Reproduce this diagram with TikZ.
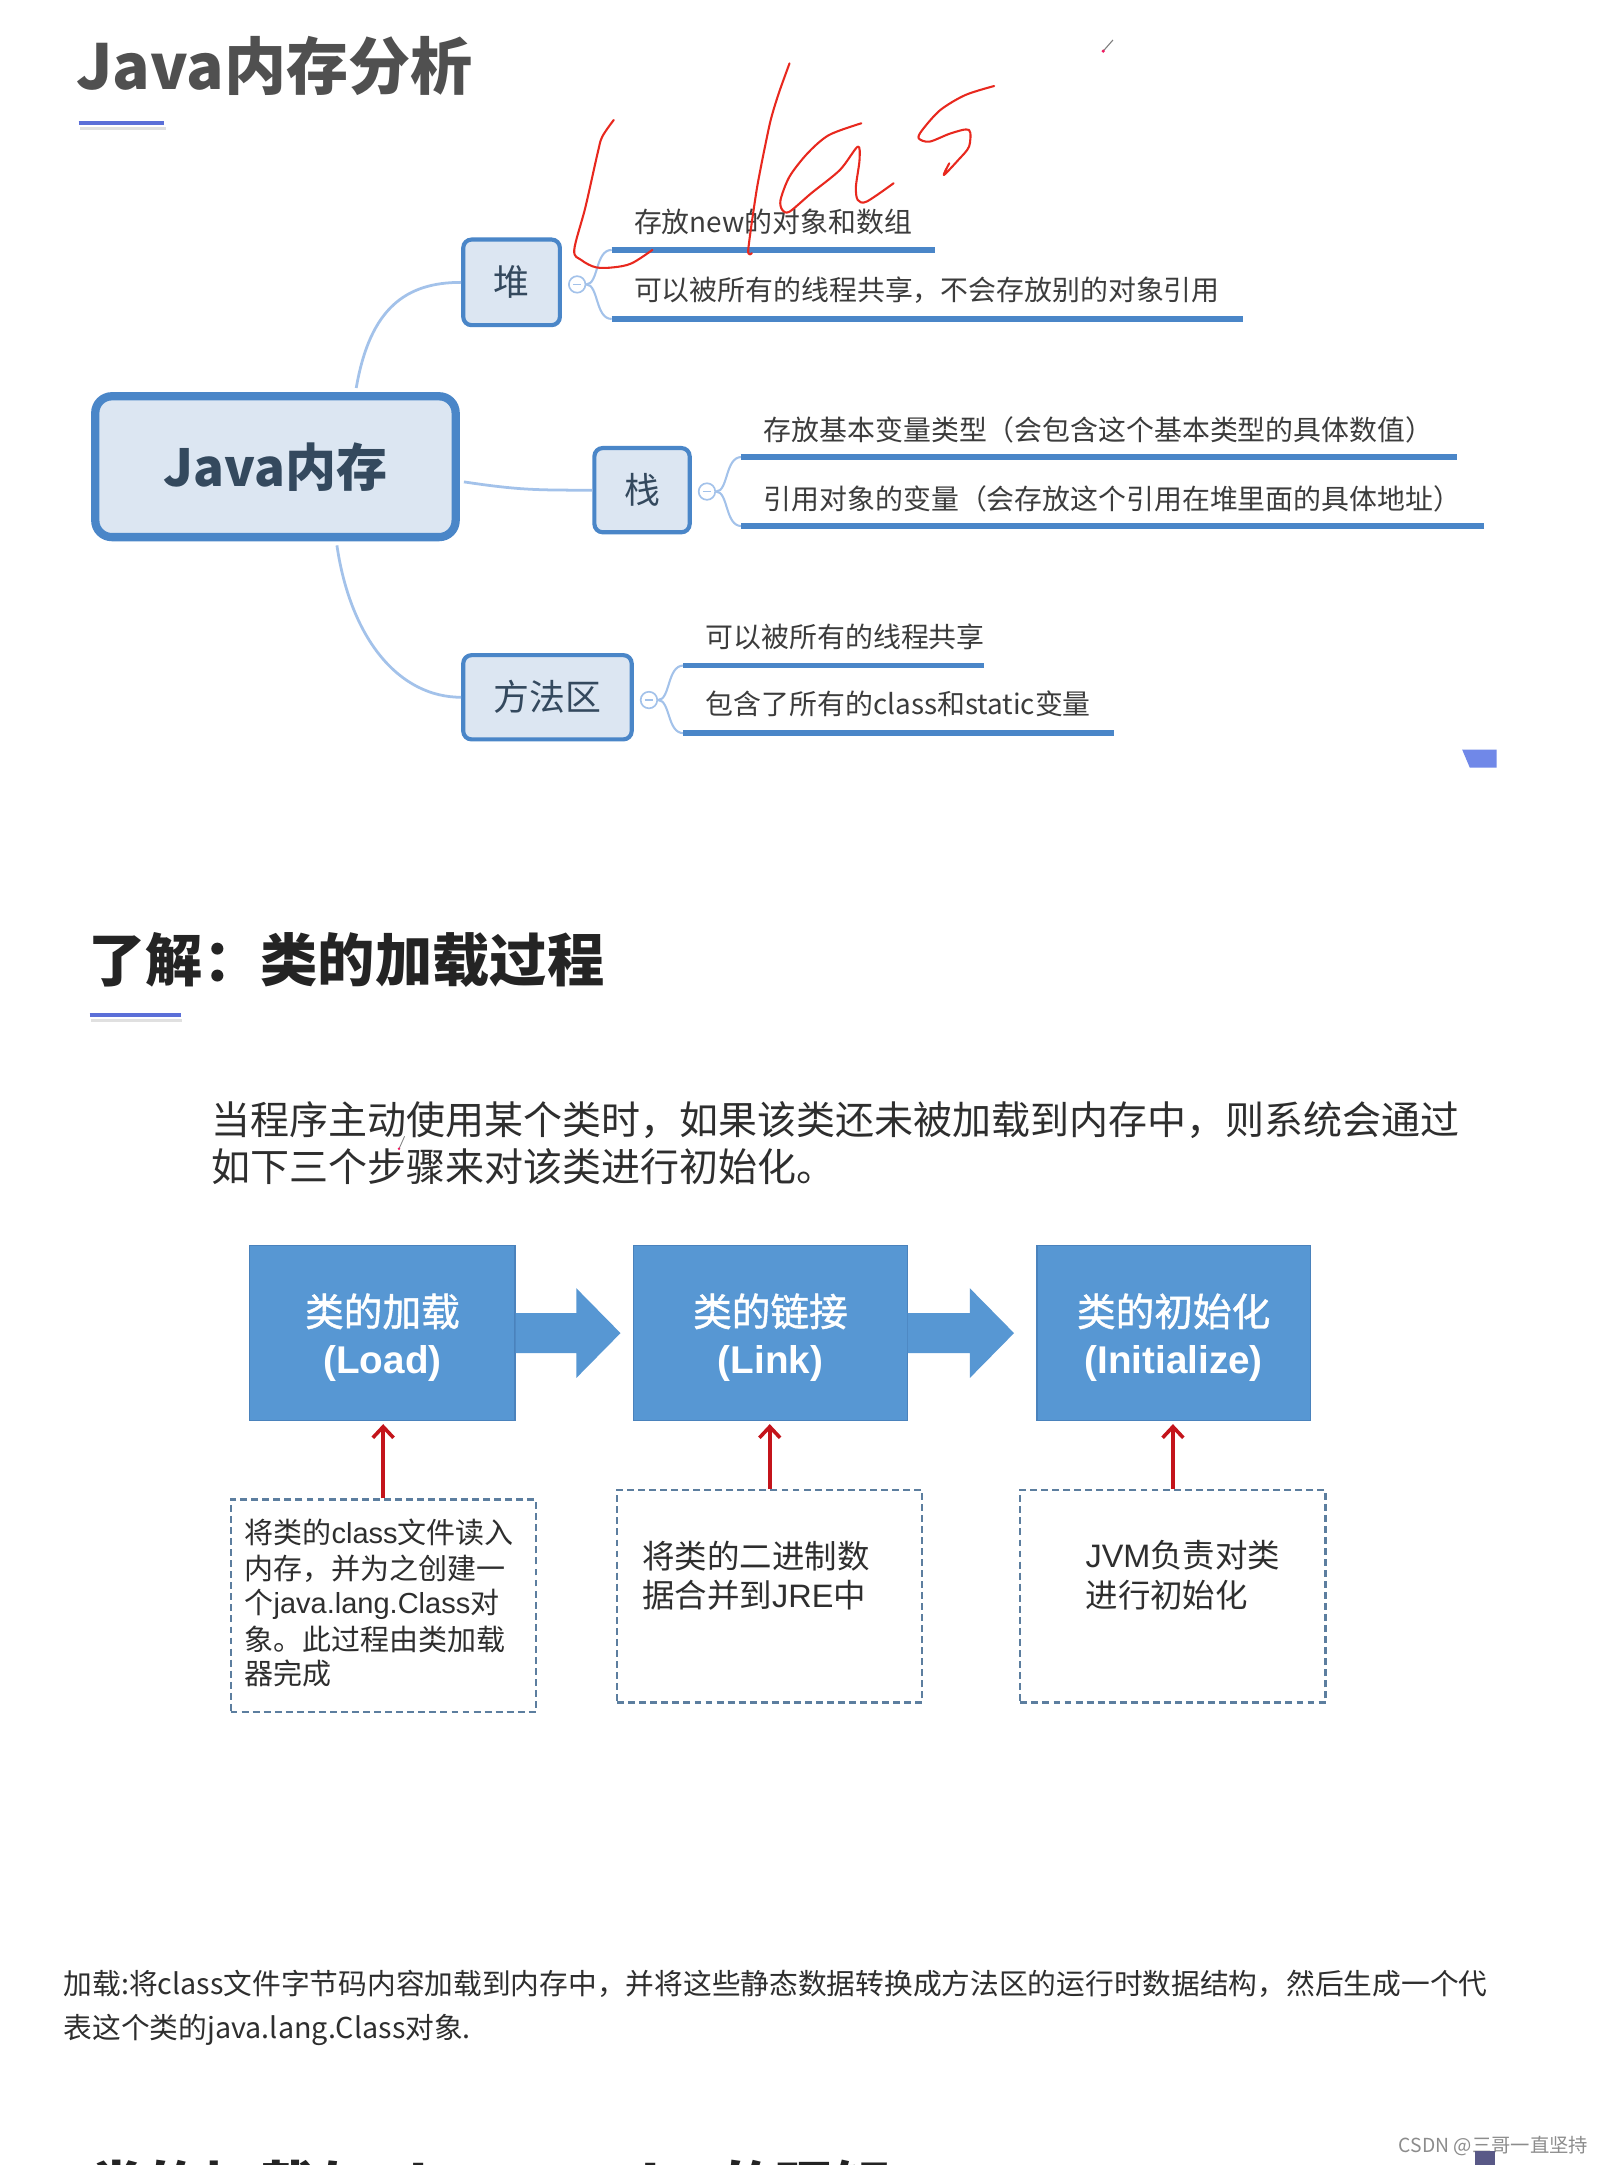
\documentclass[tikz,border=0pt]{standalone}
\usepackage{fontspec}
\setmainfont{Noto Sans CJK SC}
\newfontfamily\lat{Liberation Sans}
\newfontfamily\cjkmed{Noto Sans CJK SC}[FakeBold=1.2]
\usetikzlibrary{arrows.meta,calc}
\definecolor{mmblue}{HTML}{4A86C8}
\definecolor{mmfill}{HTML}{DCE6F2}
\definecolor{connblue}{HTML}{A3C2EA}
\definecolor{roottext}{HTML}{34495E}
\definecolor{mmtext}{HTML}{3C3C3C}
\definecolor{titlegray}{HTML}{505050}
\definecolor{titledark}{HTML}{242424}
\definecolor{lineblue}{HTML}{5B6FD8}
\definecolor{boxblue}{HTML}{5797D3}
\definecolor{boxedge}{HTML}{4A82BC}
\definecolor{arrowred}{HTML}{C4141B}
\definecolor{dashblue}{HTML}{5C7E9F}
\definecolor{handred}{HTML}{E8281E}
\definecolor{quadblue}{HTML}{7088E8}
\definecolor{bodygray}{HTML}{2E2E2E}
\newcommand\myfs[2]{\fontsize{#1}{#2}\selectfont}
\begin{document}
\begin{tikzpicture}[x=1pt,y=-1pt,
  txt/.style={inner sep=0pt, anchor=west},
  mm/.style={draw=mmblue, fill=mmfill, line width=3pt, rounded corners=6pt, inner sep=0pt, text=roottext, font={\myfs{26}{28}}},
  conn/.style={draw=connblue, line width=2pt},
  uline/.style={draw=mmblue, line width=4pt},
  coll/.style={circle, draw=connblue, line width=1.2pt, minimum size=12pt, inner sep=0pt, fill=white,
    path picture={\draw[connblue, line width=1pt] ([xshift=-3pt]path picture bounding box.center) -- ([xshift=3pt]path picture bounding box.center);}},
  mtxt/.style={txt, text=mmtext, font={\myfs{20.2}{24}}},
  tline/.style={draw=lineblue, line width=3pt},
  tshadow/.style={draw=black!12, line width=2pt},
  bbox/.style={fill=boxblue, draw=boxedge, line width=0.8pt, inner sep=0pt},
  btxt/.style={text=white, align=center, inner sep=0pt, font={\myfs{28}{34}\cjkmed}},
  barrow/.style={fill=boxblue, draw=none},
  dbox/.style={draw=dashblue, line width=1.5pt, dash pattern=on 5pt off 3pt, inner sep=0pt},
  dtxt/.style={txt, text=bodygray},
  redarr/.style={draw=arrowred, line width=2.6pt, -{Straight Barb[length=8pt,width=15pt]}, shorten >=2pt},
  hand/.style={draw=handred, line width=1.5pt, line cap=round, line join=round}
]
\useasboundingbox (0,0) rectangle (1163,1568);
\clip (0,0) rectangle (1163,1568);
\fill[white] (0,0) rectangle (1163,1568);

% ---------- Section 1 ----------
\node[txt, text=titlegray, font={\myfs{45}{50}\bfseries}] (t1) at (55,48) {Java内存分析};
\draw[tshadow] (58,93) -- (120,93);
\draw[tline] (57,89) -- (119,89);

% mind map nodes
\node[mm, line width=6pt, rounded corners=12pt, minimum width=261pt, minimum height=102pt, font={\myfs{37}{40}\bfseries}] (root) at (199.5,338) {Java内存};
\node[mm, minimum width=70pt, minimum height=62pt] (heap) at (370.5,204.5) {堆};
\node[mm, minimum width=69pt, minimum height=61pt] (stack) at (465,355) {栈};
\node[mm, minimum width=122pt, minimum height=61pt] (meth) at (396.5,505) {方法区};

% connectors root -> children
\draw[conn] ($(root.north)+(58.5,-3)$) .. controls +(10,-58) and +(-40,0) .. (heap.west);
\draw[conn] ($(root.east)+(3,11)$) .. controls +(40,6) and +(-40,0) .. (stack.west);
\draw[conn] ($(root.south)+(44.5,3)$) .. controls +(10,68) and +(-45,0) .. (meth.west);

% collapse markers
\node[coll] (ch) at (418,206) {};
\node[coll] (cs) at (512,356) {};
\node[coll] (cm) at (470,507) {};

% underline coordinates
\coordinate (h1) at (443,181); \coordinate (h1e) at (677,181);
\coordinate (h2) at (443,231); \coordinate (h2e) at (900,231);
\coordinate (s1) at (537,331); \coordinate (s1e) at (1055,331);
\coordinate (s2) at (537,381); \coordinate (s2e) at (1075,381);
\coordinate (m1) at (495,482); \coordinate (m1e) at (713,482);
\coordinate (m2) at (495,531); \coordinate (m2e) at (807,531);

% brackets
\foreach \c/\a/\b in {ch/h1/h2, cs/s1/s2, cm/m1/m2}{
  \draw[conn, line width=1.5pt] (\c.east) .. controls +(9,0) and +(-12,0) .. (\a);
  \draw[conn, line width=1.5pt] (\c.east) .. controls +(9,0) and +(-12,0) .. (\b);
}
% underlines
\draw[uline] (h1) -- (h1e);
\draw[uline] (h2) -- (h2e);
\draw[uline] (s1) -- (s1e);
\draw[uline] (s2) -- (s2e);
\draw[uline] (m1) -- (m1e);
\draw[uline] (m2) -- (m2e);

% leaf texts
\node[mtxt] (th1) at (459,161) {存放new的对象和数组};
\node[mtxt] (th2) at (459,210) {可以被所有的线程共享，不会存放别的对象引用};
\node[mtxt] (ts1) at (553,311) {存放基本变量类型（会包含这个基本类型的具体数值）};
\node[mtxt] (ts2) at (553,361) {引用对象的变量（会存放这个引用在堆里面的具体地址）};
\node[mtxt] (tm1) at (511,461) {可以被所有的线程共享};
\node[mtxt] (tm2) at (511,510) {包含了所有的class和static变量};

% handwriting
\draw[hand] plot[smooth, tension=0.55] coordinates {(444.5,86.9) (436.2,99) (432.8,111) (424,150) (415.9,181) (421,188.3) (431.5,193.6) (444.5,193.6) (457.5,190.7) (472.5,181)};
\draw[hand] plot[smooth, tension=0.4] coordinates {(571.8,45.9) (564,67.6) (557.6,89.3) (548.4,135.2) (541.9,181) (544.5,183.4)};
\draw[hand] plot[smooth, tension=0.5] coordinates {(623.8,89.3) (600.4,97.8) (584.9,111) (571.8,127.9) (565.3,144.8) (566.6,152.1) (571.8,153.3) (587.5,140) (608.3,123.1) (621.2,106.2) (622.5,115.9) (619.9,135.2) (621.2,144.8) (627.7,146) (647.2,132.7)};
\draw[hand] plot[smooth, tension=0.5] coordinates {(720,62.3) (699.2,68.8) (681,79.7) (668,94.1) (665.4,100.2) (673.2,102.6) (688.8,96.5) (701.8,94.1) (701.8,106.2) (694,115.9) (683.6,126.7) (687.5,118.3)};
\draw[gray, line width=0.8pt] (799,37) -- (806,29);
\fill[handred!70!magenta] (799,37) circle (1.3pt);

% small blue quad
\fill[quadblue] (1059,543) -- (1084,543) -- (1084,556) -- (1064.5,556) -- cycle;

% ---------- Section 2 ----------
\node[txt, text=titledark, font={\myfs{41.5}{44}\bfseries}] (t2) at (64,695) {了解：类的加载过程};
\draw[tshadow] (66,739) -- (132,739);
\draw[tline] (65,735) -- (131,735);

\node[txt, text=bodygray, font={\myfs{28.25}{34}}] (p1) at (153,811) {当程序主动使用某个类时，如果该类还未被加载到内存中，则系统会通过};
\node[txt, text=bodygray, font={\myfs{28.25}{34}}] (p2) at (153,845) {如下三个步骤来对该类进行初始化。};
\draw[gray, line width=0.6pt] (289,832) -- (293,823);
\fill[handred!70!magenta] (289,832) circle (1pt);

% blue step boxes
\node[bbox, minimum width=192pt, minimum height=127pt] (b1) at (277,965.5) {};
\node[bbox, minimum width=198pt, minimum height=127pt] (b2) at (558,965.5) {};
\node[bbox, minimum width=198pt, minimum height=127pt] (b3) at (850,965.5) {};
\node[btxt] (b1t) at (277,968.5) {类的加载\\{\lat\bfseries (Load)}};
\node[btxt] (b2t) at (558,968.5) {类的链接\\{\lat\bfseries (Link)}};
\node[btxt] (b3t) at (850,968.5) {类的初始化\\{\lat\bfseries (Initialize)}};

% block arrows
\path[barrow] (b1.east) ++(0,-14.5) -- ++(44,0) -- ++(0,-18) -- ++(32,32.5) -- ++(-32,32.5) -- ++(0,-18) -- ++(-44,0) -- cycle;
\path[barrow] (b2.east) ++(0,-14.5) -- ++(45,0) -- ++(0,-18) -- ++(32,32.5) -- ++(-32,32.5) -- ++(0,-18) -- ++(-45,0) -- cycle;

% dashed boxes
\node[dbox, minimum width=221pt, minimum height=154pt] (dA) at (277.5,1163) {};
\node[dbox, minimum width=221pt, minimum height=154pt] (dB) at (557.5,1156) {};
\node[dbox, minimum width=221pt, minimum height=154pt] (dC) at (849.5,1156) {};

% red arrows
\draw[redarr] (dA.north) -- (dA.north |- b1.south);
\draw[redarr] (dB.north) -- (dB.north |- b2.south);
\draw[redarr] (dC.north) -- (dC.north |- b3.south);

% dashed box texts
\node[dtxt, font={\myfs{21}{25}}] (a1) at (177,1110) {将类的{\lat class}文件读入};
\node[dtxt, font={\myfs{21}{25}}] (a2) at (177,1136) {内存，并为之创建一};
\node[dtxt, font={\myfs{21}{25}}] (a3) at (177,1162) {个{\lat java.lang.Class}对};
\node[dtxt, font={\myfs{21}{25}}] (a4) at (177,1187) {象。此过程由类加载};
\node[dtxt, font={\myfs{21}{25}}] (a5) at (177,1212) {器完成};
\node[dtxt, font={\myfs{23.5}{28}}] (bb1) at (465,1127) {将类的二进制数};
\node[dtxt, font={\myfs{23.5}{28}}] (bb2) at (465,1155) {据合并到{\lat JRE}中};
\node[dtxt, font={\myfs{23.5}{28}}] (cc1) at (786,1126) {{\lat JVM}负责对类};
\node[dtxt, font={\myfs{23.5}{28}}] (cc2) at (786,1155) {进行初始化};

% ---------- Section 3 ----------
\node[txt, text=bodygray, font={\myfs{20.8}{24}}] (q1) at (46,1437) {加载:将class文件字节码内容加载到内存中，并将这些静态数据转换成方法区的运行时数据结构，然后生成一个代};
\node[txt, text=bodygray, font={\myfs{20.8}{24}}] (q2) at (46,1470) {表这个类的java.lang.Class对象.};

\node[txt, text=titledark, font={\myfs{41}{44}\bfseries}] (t3) at (64,1584) {类的加载与ClassLoader的理解};

% watermark
\node[txt, text=black!45, font={\myfs{14}{16}}] (wm) at (1013,1554) {CSDN @三哥一直坚持};
\fill[black!40!blue!30!gray] (1068,1558) rectangle (1083,1568);
\end{tikzpicture}
\end{document}
